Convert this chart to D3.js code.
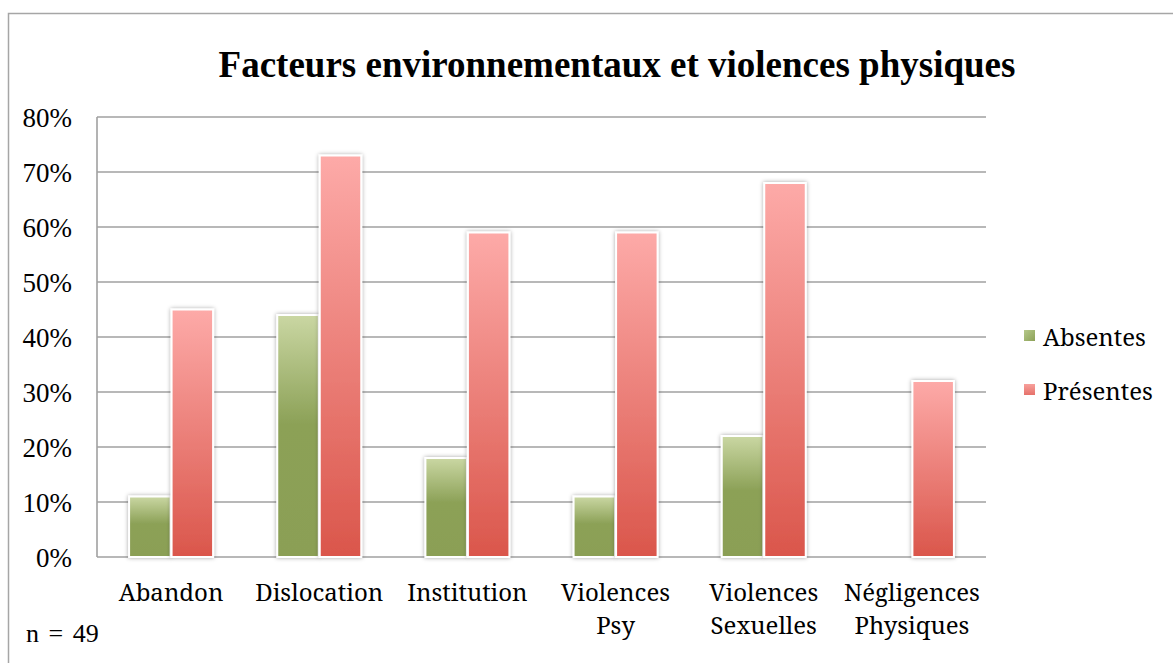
<!DOCTYPE html>
<html>
<head>
<meta charset="utf-8">
<script src="https://cdn.jsdelivr.net/npm/d3@7"></script>
<style>
  body { margin: 0; background: #fff; }
  svg { display: block; }
</style>
</head>
<body>
<svg width="1173" height="663"></svg>
<script>
// data
var categories = [["Abandon"], ["Dislocation"], ["Institution"], ["Violences", "Psy"], ["Violences", "Sexuelles"], ["Négligences", "Physiques"]];
var seriesNames = ["Absentes", "Présentes"];
var absentes = [0.11, 0.44, 0.18, 0.11, 0.22, 0];
var presentes = [0.45, 0.73, 0.59, 0.59, 0.68, 0.32];
var yTicks = [0, 0.1, 0.2, 0.3, 0.4, 0.5, 0.6, 0.7, 0.8];

var svg = d3.select("svg"),
    width = +svg.attr("width"),
    height = +svg.attr("height");

var margin = { left: 97, right: 187, top: 117, bottom: 106 };
var plotW = width - margin.left - margin.right,
    plotH = height - margin.top - margin.bottom;

var timesFont = "'Liberation Serif', 'Times New Roman', serif";
var labelFont = "'Noto Serif', 'DejaVu Serif', serif";

var defs = svg.append("defs");

// gradients similar to the office "subtle" bar style
var gGreen = defs.append("linearGradient").attr("id", "gradGreen")
    .attr("x1", 0).attr("y1", 0).attr("x2", 0).attr("y2", 1);
gGreen.append("stop").attr("offset", "0%").attr("stop-color", "#cad7a3");
gGreen.append("stop").attr("offset", "45%").attr("stop-color", "#8ca157");
gGreen.append("stop").attr("offset", "100%").attr("stop-color", "#8b9f55");

var gRed = defs.append("linearGradient").attr("id", "gradRed")
    .attr("x1", 0).attr("y1", 0).attr("x2", 0).attr("y2", 1);
gRed.append("stop").attr("offset", "0%").attr("stop-color", "#fdaaa8");
gRed.append("stop").attr("offset", "100%").attr("stop-color", "#da564b");

var lgGreen = defs.append("linearGradient").attr("id", "legGreen")
    .attr("x1", 0).attr("y1", 0).attr("x2", 1).attr("y2", 1);
lgGreen.append("stop").attr("offset", "0%").attr("stop-color", "#b5c88a");
lgGreen.append("stop").attr("offset", "100%").attr("stop-color", "#8ca157");

var lgRed = defs.append("linearGradient").attr("id", "legRed")
    .attr("x1", 0).attr("y1", 0).attr("x2", 0).attr("y2", 1);
lgRed.append("stop").attr("offset", "0%").attr("stop-color", "#f7a09c");
lgRed.append("stop").attr("offset", "100%").attr("stop-color", "#e6716a");

var shadow = defs.append("filter").attr("id", "shadow")
    .attr("x", "-30%").attr("y", "-10%").attr("width", "160%").attr("height", "120%");
shadow.append("feDropShadow").attr("dx", 0).attr("dy", 0).attr("stdDeviation", 2)
    .attr("flood-color", "#000").attr("flood-opacity", 0.35);

var fills = ["url(#gradGreen)", "url(#gradRed)"];
var legendFills = ["url(#legGreen)", "url(#legRed)"];

// outer border
svg.append("rect")
    .attr("x", 8.5).attr("y", 13.5)
    .attr("width", 1200).attr("height", 700)
    .attr("fill", "none").attr("stroke", "#a6a6a6").attr("stroke-width", 1.5);

// title
svg.append("text")
    .attr("x", 617).attr("y", 77)
    .attr("text-anchor", "middle")
    .style("font-family", timesFont)
    .style("font-weight", "bold")
    .style("font-size", "37px")
    .text("Facteurs environnementaux et violences physiques");

var g = svg.append("g").attr("transform", "translate(" + margin.left + "," + margin.top + ")");

var x0 = d3.scaleBand().domain(d3.range(categories.length)).range([0, plotW]).paddingInner(0).paddingOuter(0);
var y = d3.scaleLinear().domain([0, 0.8]).range([plotH, 0]);
var x1 = d3.scaleBand().domain([0, 1]).range([0, 85]).padding(0);
var groupOffset = (x0.bandwidth() - 85) / 2 - 0.5;

// gridlines
g.append("g")
  .selectAll("line")
  .data(yTicks)
  .enter().append("line")
    .attr("x1", 0).attr("x2", plotW)
    .attr("y1", function(d) { return y(d); })
    .attr("y2", function(d) { return y(d); })
    .attr("stroke", "#a0a0a0")
    .attr("stroke-width", 1.6);

// vertical axis line
g.append("line")
    .attr("x1", 0).attr("x2", 0).attr("y1", 0).attr("y2", plotH)
    .attr("stroke", "#a0a0a0").attr("stroke-width", 1.6);

// y axis labels
var yAxis = d3.axisLeft(y).tickValues(yTicks).tickFormat(d3.format(".0%")).tickSize(0).tickPadding(25);
var yg = g.append("g").call(yAxis);
yg.select(".domain").remove();
yg.attr("font-family", null).attr("font-size", null);
yg.selectAll("text")
    .attr("dy", "0.36em")
    .style("font-family", timesFont)
    .style("font-size", "27px")
    .attr("fill", "#000");

// bars
var rows = categories.map(function(c, i) { return [absentes[i], presentes[i]]; });

var groups = g.append("g")
  .selectAll("g")
  .data(rows)
  .enter().append("g")
    .attr("transform", function(d, i) { return "translate(" + (x0(i) + groupOffset) + ",0)"; });

groups.selectAll("rect")
  .data(function(d) { return d.map(function(v, s) { return { v: v, s: s }; }).filter(function(e) { return e.v > 0; }); })
  .enter().append("rect")
    .attr("x", function(d) { return x1(d.s) + 1; })
    .attr("y", function(d) { return y(d.v); })
    .attr("width", x1.bandwidth() - 1)
    .attr("height", function(d) { return plotH - y(d.v); })
    .attr("fill", function(d) { return fills[d.s]; })
    .attr("stroke", "#fff")
    .attr("stroke-width", 2)
    .attr("filter", "url(#shadow)");

// category labels
var cat = g.append("g")
  .selectAll("text")
  .data(categories)
  .enter().append("text")
    .attr("x", function(d, i) { return x0(i) + x0.bandwidth() / 2; })
    .attr("y", plotH + 44)
    .attr("text-anchor", "middle")
    .style("font-family", labelFont)
    .style("font-size", "24px");
cat.selectAll("tspan")
  .data(function(d) { return d; })
  .enter().append("tspan")
    .attr("x", function() { return d3.select(this.parentNode).attr("x"); })
    .attr("dy", function(d, j) { return j === 0 ? 0 : 33; })
    .text(function(d) { return d; });

// legend
var legend = svg.append("g")
  .selectAll("g")
  .data(seriesNames)
  .enter().append("g")
    .attr("transform", function(d, i) { return "translate(1024," + (346 + i * 54) + ")"; });
legend.append("rect")
    .attr("x", 0).attr("y", -16)
    .attr("width", 11).attr("height", 11)
    .attr("fill", function(d, i) { return legendFills[i]; });
legend.append("text")
    .attr("x", 19).attr("y", 0)
    .style("font-family", labelFont)
    .style("font-size", "24px")
    .text(function(d) { return d; });

// sample size note
svg.append("text")
    .attr("x", 26).attr("y", 642)
    .style("font-family", timesFont)
    .style("font-size", "26px")
    .style("word-spacing", "3px")
    .text("n = 49");
</script>
</body>
</html>
